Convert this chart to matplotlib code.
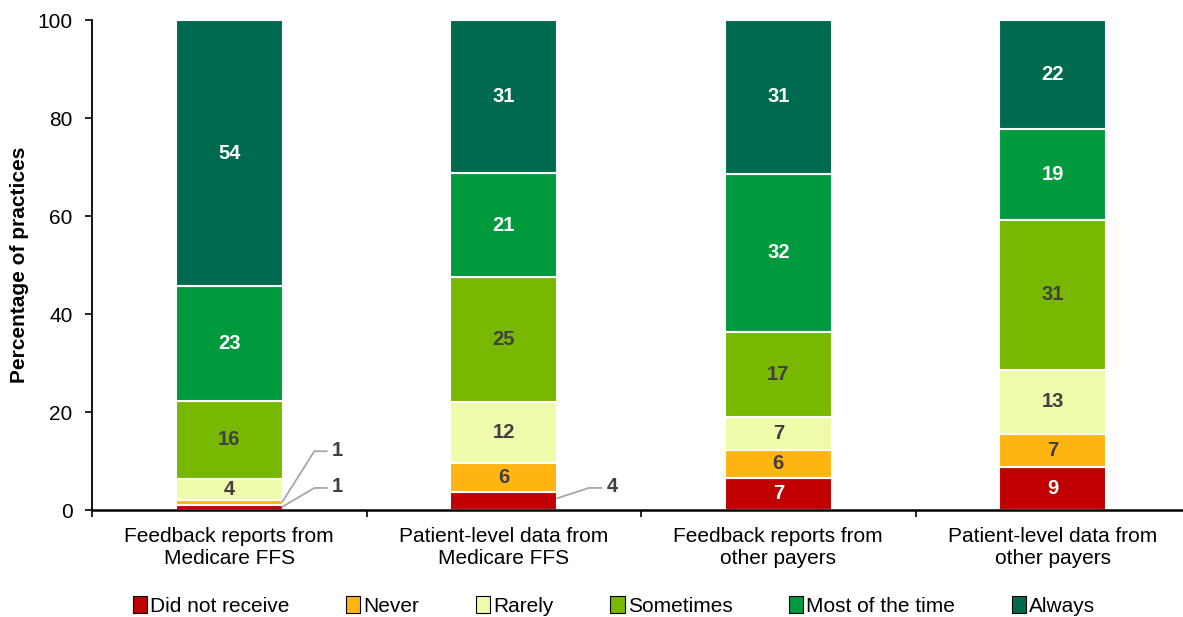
import matplotlib
matplotlib.use("Agg")
import matplotlib.pyplot as plt
from matplotlib.patches import Patch
import numpy as np

plt.rcParams['font.family'] = ['Liberation Sans', 'DejaVu Sans']

categories = ["Feedback reports from\nMedicare FFS", "Patient-level data from\nMedicare FFS",
              "Feedback reports from\nother payers", "Patient-level data from\nother payers"]
series_names = ["Did not receive", "Never", "Rarely", "Sometimes", "Most of the time", "Always"]
did_not_receive = [1.0, 3.6, 6.6, 8.7]
never = [1.0, 6.0, 5.6, 6.9]
rarely = [4.3, 12.5, 6.8, 13.0]
sometimes = [16.0, 25.4, 17.3, 30.6]
most_of_the_time = [23.4, 21.2, 32.3, 18.6]
always = [54.3, 31.3, 31.4, 22.2]

colors = ["#C00000", "#FFB511", "#EFFBAA", "#78B800", "#009A3E", "#006A4E"]
text_colors = ["white", "#404040", "#404040", "#404040", "white", "white"]

series = [did_not_receive, never, rarely, sometimes, most_of_the_time, always]

FS = 15
fig = plt.figure(figsize=(11.83, 6.17), dpi=100)
ax = fig.add_axes([92/1183, 1-510/617, (1183-92)/1183, (510-20)/617])

x = np.arange(len(categories))
width = 0.39
bottom = np.zeros(len(categories))
for si, (vals, c, tc) in enumerate(zip(series, colors, text_colors)):
    vals = np.array(vals)
    ax.bar(x, vals, width, bottom=bottom, color=c, edgecolor="white", linewidth=1.5, zorder=2)
    for i in range(len(x)):
        v = vals[i]
        if v >= 3.8:
            ax.text(x[i], bottom[i] + v/2, f"{round(v):d}", ha="center", va="center",
                    fontsize=14.5, fontweight="bold", color=tc, zorder=3)
    bottom += vals

# outside labels with leader lines
def leader(xi, ystart, ymid, label):
    xe = xi + width/2
    x1 = xe + 0.115
    x2 = xe + 0.16
    ax.plot([xe, x1, x2], [ystart, ymid, ymid], color="#A6A6A6", lw=1.3, clip_on=False, zorder=3)
    ax.text(x2 + 0.02, ymid + 0.2, label, ha="left", va="center", fontsize=14.5,
            fontweight="bold", color="#404040")

leader(0, did_not_receive[0]/2 + 0.2, 4.5, f"{round(did_not_receive[0])}")
leader(0, did_not_receive[0] + never[0]/2 + 0.3, 12.0, f"{round(never[0])}")
leader(1, did_not_receive[1]/2 + 0.6, 4.5, f"{round(did_not_receive[1])}")

ax.set_xlim(-0.5, 3.5 - 7/274.5)
ax.set_ylim(0, 100)
ax.set_yticks([0, 20, 40, 60, 80, 100])
ax.set_xticks([-0.5, 0.5, 1.5, 2.5])
ax.set_xticklabels([])
ax.set_xticks(x, minor=True)
ax.set_xticklabels(categories, minor=True, fontsize=FS, linespacing=1.25)
ax.tick_params(axis="x", which="minor", length=0, pad=12)
ax.tick_params(axis="x", which="major", length=5, width=1.2, direction="out")
ax.tick_params(axis="y", length=5, width=1.2, direction="out", labelsize=FS, pad=9)
for s in ["top", "right"]:
    ax.spines[s].set_visible(False)
ax.spines["left"].set_linewidth(1.3)
ax.spines["bottom"].set_linewidth(1.8)
ax.set_ylabel("Percentage of practices", fontsize=FS, fontweight="bold", labelpad=6)

handles = [Patch(facecolor=c, edgecolor="black", linewidth=0.8) for c in colors]
fig.legend(handles, series_names, loc="center", bbox_to_anchor=(614/1183, 1-606/617), ncol=6,
           frameon=False, fontsize=FS, handlelength=0.7, handleheight=0.85, handletextpad=0.15,
           columnspacing=2.7)

fig.savefig("out.png", dpi=100)
